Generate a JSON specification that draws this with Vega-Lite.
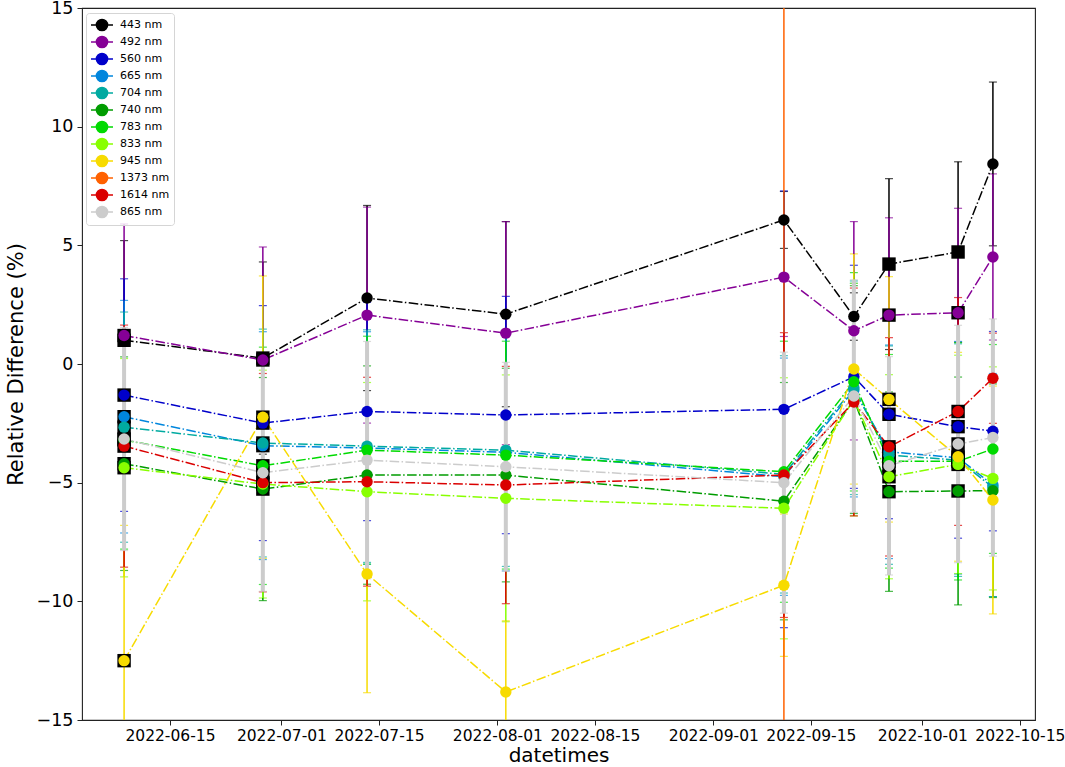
{
  "$schema": "https://vega.github.io/schema/vega-lite/v6.json",
  "width": 953,
  "height": 712,
  "autosize": {"type": "none"},
  "padding": {"left": 82, "top": 8, "right": 30, "bottom": 47},
  "background": "white",
  "config": {
    "font": "DejaVu Sans",
    "view": {"stroke": "#222222", "strokeWidth": 1.1},
    "axis": {
      "grid": false,
      "domain": false,
      "tickColor": "#222222",
      "tickSize": 5,
      "tickWidth": 1,
      "labelColor": "black",
      "titleColor": "black",
      "titleFontWeight": "normal",
      "labelFont": "DejaVu Sans",
      "titleFont": "DejaVu Sans"
    }
  },
  "data": {
    "values": [
      {"band": "443 nm", "date": "2022-06-08T10:00:00Z", "value": 1.0, "err": 4.2, "qc": "flag"},
      {"band": "443 nm", "date": "2022-06-28T08:00:00Z", "value": 0.25, "err": 4.05, "qc": "flag"},
      {"band": "443 nm", "date": "2022-07-13T07:00:00Z", "value": 2.78, "err": 3.9, "qc": "ok"},
      {"band": "443 nm", "date": "2022-08-02T05:00:00Z", "value": 2.1, "err": 3.9, "qc": "ok"},
      {"band": "443 nm", "date": "2022-09-11T03:00:00Z", "value": 6.07, "err": 1.2, "qc": "ok"},
      {"band": "443 nm", "date": "2022-09-21T04:00:00Z", "value": 2.0, "err": 1.0, "qc": "ok"},
      {"band": "443 nm", "date": "2022-09-26T05:00:00Z", "value": 4.21, "err": 3.6, "qc": "flag"},
      {"band": "443 nm", "date": "2022-10-06T03:00:00Z", "value": 4.72, "err": 3.8, "qc": "flag"},
      {"band": "443 nm", "date": "2022-10-11T03:00:00Z", "value": 8.43, "err": 3.45, "qc": "ok"},

      {"band": "492 nm", "date": "2022-06-08T10:00:00Z", "value": 1.2, "err": 4.7, "qc": "flag"},
      {"band": "492 nm", "date": "2022-06-28T08:00:00Z", "value": 0.17, "err": 4.76, "qc": "flag"},
      {"band": "492 nm", "date": "2022-07-13T07:00:00Z", "value": 2.06, "err": 4.55, "qc": "ok"},
      {"band": "492 nm", "date": "2022-08-02T05:00:00Z", "value": 1.3, "err": 4.7, "qc": "ok"},
      {"band": "492 nm", "date": "2022-09-11T03:00:00Z", "value": 3.66, "err": 2.5, "qc": "ok"},
      {"band": "492 nm", "date": "2022-09-21T04:00:00Z", "value": 1.4, "err": 4.6, "qc": "ok"},
      {"band": "492 nm", "date": "2022-09-26T05:00:00Z", "value": 2.06, "err": 4.1, "qc": "flag"},
      {"band": "492 nm", "date": "2022-10-06T03:00:00Z", "value": 2.16, "err": 4.4, "qc": "flag"},
      {"band": "492 nm", "date": "2022-10-11T03:00:00Z", "value": 4.51, "err": 3.5, "qc": "ok"},

      {"band": "560 nm", "date": "2022-06-08T10:00:00Z", "value": -1.31, "err": 4.9, "qc": "flag"},
      {"band": "560 nm", "date": "2022-06-28T08:00:00Z", "value": -2.49, "err": 4.95, "qc": "flag"},
      {"band": "560 nm", "date": "2022-07-13T07:00:00Z", "value": -2.0, "err": 4.6, "qc": "ok"},
      {"band": "560 nm", "date": "2022-08-02T05:00:00Z", "value": -2.15, "err": 5.0, "qc": "ok"},
      {"band": "560 nm", "date": "2022-09-11T03:00:00Z", "value": -1.91, "err": 9.2, "qc": "ok"},
      {"band": "560 nm", "date": "2022-09-21T04:00:00Z", "value": -0.54, "err": 4.7, "qc": "ok"},
      {"band": "560 nm", "date": "2022-09-26T05:00:00Z", "value": -2.12, "err": 4.4, "qc": "flag"},
      {"band": "560 nm", "date": "2022-10-06T03:00:00Z", "value": -2.64, "err": 4.7, "qc": "flag"},
      {"band": "560 nm", "date": "2022-10-11T03:00:00Z", "value": -2.83, "err": 4.2, "qc": "ok"},

      {"band": "665 nm", "date": "2022-06-08T10:00:00Z", "value": -2.22, "err": 4.9, "qc": "flag"},
      {"band": "665 nm", "date": "2022-06-28T08:00:00Z", "value": -3.44, "err": 4.8, "qc": "flag"},
      {"band": "665 nm", "date": "2022-07-13T07:00:00Z", "value": -3.54, "err": 4.9, "qc": "ok"},
      {"band": "665 nm", "date": "2022-08-02T05:00:00Z", "value": -3.72, "err": 5.0, "qc": "ok"},
      {"band": "665 nm", "date": "2022-09-11T03:00:00Z", "value": -4.75, "err": 5.0, "qc": "ok"},
      {"band": "665 nm", "date": "2022-09-21T04:00:00Z", "value": -1.1, "err": 4.5, "qc": "ok"},
      {"band": "665 nm", "date": "2022-09-26T05:00:00Z", "value": -3.7, "err": 4.5, "qc": "flag"},
      {"band": "665 nm", "date": "2022-10-06T03:00:00Z", "value": -3.95, "err": 4.9, "qc": "flag"},
      {"band": "665 nm", "date": "2022-10-11T03:00:00Z", "value": -5.1, "err": 4.7, "qc": "ok"},

      {"band": "704 nm", "date": "2022-06-08T10:00:00Z", "value": -2.66, "err": 4.85, "qc": "flag"},
      {"band": "704 nm", "date": "2022-06-28T08:00:00Z", "value": -3.33, "err": 4.8, "qc": "flag"},
      {"band": "704 nm", "date": "2022-07-13T07:00:00Z", "value": -3.46, "err": 4.9, "qc": "ok"},
      {"band": "704 nm", "date": "2022-08-02T05:00:00Z", "value": -3.63, "err": 4.9, "qc": "ok"},
      {"band": "704 nm", "date": "2022-09-11T03:00:00Z", "value": -4.65, "err": 5.0, "qc": "ok"},
      {"band": "704 nm", "date": "2022-09-21T04:00:00Z", "value": -1.0, "err": 4.5, "qc": "ok"},
      {"band": "704 nm", "date": "2022-09-26T05:00:00Z", "value": -3.84, "err": 4.6, "qc": "flag"},
      {"band": "704 nm", "date": "2022-10-06T03:00:00Z", "value": -4.05, "err": 4.9, "qc": "flag"},
      {"band": "704 nm", "date": "2022-10-11T03:00:00Z", "value": -5.2, "err": 4.6, "qc": "ok"},

      {"band": "740 nm", "date": "2022-06-08T10:00:00Z", "value": -4.2, "err": 4.5, "qc": "flag"},
      {"band": "740 nm", "date": "2022-06-28T08:00:00Z", "value": -5.27, "err": 4.7, "qc": "flag"},
      {"band": "740 nm", "date": "2022-07-13T07:00:00Z", "value": -4.68, "err": 4.6, "qc": "ok"},
      {"band": "740 nm", "date": "2022-08-02T05:00:00Z", "value": -4.68, "err": 4.5, "qc": "ok"},
      {"band": "740 nm", "date": "2022-09-11T03:00:00Z", "value": -5.78, "err": 5.0, "qc": "ok"},
      {"band": "740 nm", "date": "2022-09-21T04:00:00Z", "value": -1.5, "err": 4.8, "qc": "ok"},
      {"band": "740 nm", "date": "2022-09-26T05:00:00Z", "value": -5.38, "err": 4.2, "qc": "flag"},
      {"band": "740 nm", "date": "2022-10-06T03:00:00Z", "value": -5.35, "err": 4.8, "qc": "flag"},
      {"band": "740 nm", "date": "2022-10-11T03:00:00Z", "value": -5.34, "err": 4.5, "qc": "ok"},

      {"band": "783 nm", "date": "2022-06-08T10:00:00Z", "value": -3.2, "err": 4.6, "qc": "flag"},
      {"band": "783 nm", "date": "2022-06-28T08:00:00Z", "value": -4.29, "err": 5.0, "qc": "flag"},
      {"band": "783 nm", "date": "2022-07-13T07:00:00Z", "value": -3.63, "err": 4.8, "qc": "ok"},
      {"band": "783 nm", "date": "2022-08-02T05:00:00Z", "value": -3.84, "err": 4.8, "qc": "ok"},
      {"band": "783 nm", "date": "2022-09-11T03:00:00Z", "value": -4.54, "err": 5.5, "qc": "ok"},
      {"band": "783 nm", "date": "2022-09-21T04:00:00Z", "value": -0.75, "err": 4.6, "qc": "ok"},
      {"band": "783 nm", "date": "2022-09-26T05:00:00Z", "value": -4.1, "err": 4.5, "qc": "flag"},
      {"band": "783 nm", "date": "2022-10-06T03:00:00Z", "value": -4.1, "err": 5.0, "qc": "flag"},
      {"band": "783 nm", "date": "2022-10-11T03:00:00Z", "value": -3.58, "err": 4.4, "qc": "ok"},

      {"band": "833 nm", "date": "2022-06-08T10:00:00Z", "value": -4.37, "err": 4.6, "qc": "flag"},
      {"band": "833 nm", "date": "2022-06-28T08:00:00Z", "value": -5.06, "err": 4.8, "qc": "flag"},
      {"band": "833 nm", "date": "2022-07-13T07:00:00Z", "value": -5.38, "err": 4.6, "qc": "ok"},
      {"band": "833 nm", "date": "2022-08-02T05:00:00Z", "value": -5.66, "err": 5.2, "qc": "ok"},
      {"band": "833 nm", "date": "2022-09-11T03:00:00Z", "value": -6.08, "err": 5.5, "qc": "ok"},
      {"band": "833 nm", "date": "2022-09-21T04:00:00Z", "value": -1.5, "err": 4.9, "qc": "ok"},
      {"band": "833 nm", "date": "2022-09-26T05:00:00Z", "value": -4.75, "err": 4.3, "qc": "flag"},
      {"band": "833 nm", "date": "2022-10-06T03:00:00Z", "value": -4.23, "err": 4.6, "qc": "flag"},
      {"band": "833 nm", "date": "2022-10-11T03:00:00Z", "value": -4.82, "err": 4.7, "qc": "ok"},

      {"band": "945 nm", "date": "2022-06-08T10:00:00Z", "value": -12.5, "err": 5.7, "qc": "flag"},
      {"band": "945 nm", "date": "2022-06-28T08:00:00Z", "value": -2.24, "err": 5.95, "qc": "flag"},
      {"band": "945 nm", "date": "2022-07-13T07:00:00Z", "value": -8.85, "err": 5.0, "qc": "ok"},
      {"band": "945 nm", "date": "2022-08-02T05:00:00Z", "value": -13.82, "err": 3.0, "qc": "ok"},
      {"band": "945 nm", "date": "2022-09-11T03:00:00Z", "value": -9.32, "err": 3.0, "qc": "ok"},
      {"band": "945 nm", "date": "2022-09-21T04:00:00Z", "value": -0.21, "err": 4.85, "qc": "ok"},
      {"band": "945 nm", "date": "2022-09-26T05:00:00Z", "value": -1.49, "err": 5.17, "qc": "flag"},
      {"band": "945 nm", "date": "2022-10-06T03:00:00Z", "value": -3.91, "err": 4.4, "qc": "flag"},
      {"band": "945 nm", "date": "2022-10-11T03:00:00Z", "value": -5.73, "err": 4.8, "qc": "ok"},

      {"band": "1373 nm", "date": "2022-09-11T03:00:00Z", "value": -4.7, "err": 30, "qc": "ok"},

      {"band": "1614 nm", "date": "2022-06-08T10:00:00Z", "value": -3.46, "err": 5.1, "qc": "flag"},
      {"band": "1614 nm", "date": "2022-06-28T08:00:00Z", "value": -5.0, "err": 4.6, "qc": "flag"},
      {"band": "1614 nm", "date": "2022-07-13T07:00:00Z", "value": -4.96, "err": 4.4, "qc": "ok"},
      {"band": "1614 nm", "date": "2022-08-02T05:00:00Z", "value": -5.1, "err": 5.0, "qc": "ok"},
      {"band": "1614 nm", "date": "2022-09-11T03:00:00Z", "value": -4.68, "err": 6.0, "qc": "ok"},
      {"band": "1614 nm", "date": "2022-09-21T04:00:00Z", "value": -1.6, "err": 4.8, "qc": "ok"},
      {"band": "1614 nm", "date": "2022-09-26T05:00:00Z", "value": -3.49, "err": 4.6, "qc": "flag"},
      {"band": "1614 nm", "date": "2022-10-06T03:00:00Z", "value": -2.0, "err": 4.8, "qc": "flag"},
      {"band": "1614 nm", "date": "2022-10-11T03:00:00Z", "value": -0.6, "err": 1.9, "qc": "ok"},

      {"band": "865 nm", "date": "2022-06-08T10:00:00Z", "value": -3.16, "err": 4.7, "qc": "flag"},
      {"band": "865 nm", "date": "2022-06-28T08:00:00Z", "value": -4.58, "err": 5.0, "qc": "flag"},
      {"band": "865 nm", "date": "2022-07-13T07:00:00Z", "value": -4.05, "err": 5.0, "qc": "ok"},
      {"band": "865 nm", "date": "2022-08-02T05:00:00Z", "value": -4.33, "err": 4.4, "qc": "ok"},
      {"band": "865 nm", "date": "2022-09-11T03:00:00Z", "value": -5.0, "err": 5.5, "qc": "ok"},
      {"band": "865 nm", "date": "2022-09-21T04:00:00Z", "value": -1.35, "err": 4.9, "qc": "ok"},
      {"band": "865 nm", "date": "2022-09-26T05:00:00Z", "value": -4.29, "err": 4.6, "qc": "flag"},
      {"band": "865 nm", "date": "2022-10-06T03:00:00Z", "value": -3.37, "err": 5.0, "qc": "flag"},
      {"band": "865 nm", "date": "2022-10-11T03:00:00Z", "value": -3.1, "err": 5.0, "qc": "ok"}
    ]
  },
  "encoding": {
    "x": {
      "field": "date",
      "type": "temporal",
      "title": "datetimes",
      "scale": {
        "type": "utc",
        "domain": [
          {"year": 2022, "month": 6, "date": 2, "hours": 9, "utc": true},
          {"year": 2022, "month": 10, "date": 17, "hours": 4, "utc": true}
        ]
      },
      "axis": {
        "values": [
          {"year": 2022, "month": 6, "date": 15, "utc": true},
          {"year": 2022, "month": 7, "date": 1, "utc": true},
          {"year": 2022, "month": 7, "date": 15, "utc": true},
          {"year": 2022, "month": 8, "date": 1, "utc": true},
          {"year": 2022, "month": 8, "date": 15, "utc": true},
          {"year": 2022, "month": 9, "date": 1, "utc": true},
          {"year": 2022, "month": 9, "date": 15, "utc": true},
          {"year": 2022, "month": 10, "date": 1, "utc": true},
          {"year": 2022, "month": 10, "date": 15, "utc": true}
        ],
        "format": "%Y-%m-%d",
        "labelFontSize": 15.5,
        "labelOverlap": false,
        "labelFlush": false,
        "labelBound": false,
        "labelPadding": 3,
        "titleFontSize": 20,
        "titlePadding": 2
      }
    },
    "y": {
      "field": "value",
      "type": "quantitative",
      "title": "Relative Difference (%)",
      "scale": {"domain": [-15, 15], "nice": false, "zero": false},
      "axis": {
        "values": [-15, -10, -5, 0, 5, 10, 15],
        "labelExpr": "replace(datum.label, '-', '−')",
        "labelFontSize": 17.5,
        "labelPadding": 4,
        "titleFontSize": 21,
        "titlePadding": 10
      }
    },
    "color": {
      "field": "band",
      "type": "nominal",
      "scale": {
        "domain": ["443 nm", "492 nm", "560 nm", "665 nm", "704 nm", "740 nm", "783 nm", "833 nm", "945 nm", "1373 nm", "1614 nm", "865 nm"],
        "range": ["#000000", "#850096", "#0000ca", "#0086dd", "#00aaa1", "#009c00", "#00da00", "#88ff00", "#f7db00", "#ff6100", "#da0000", "#cccccc"]
      },
      "legend": {
        "title": null,
        "orient": "none",
        "legendX": 4,
        "legendY": 5,
        "padding": 4,
        "rowPadding": -3,
        "labelFontSize": 11,
        "labelFont": "DejaVu Sans",
        "labelColor": "black",
        "labelOffset": 10,
        "labelLimit": 120,
        "symbolOffset": 4,
        "symbolSize": 196,
        "symbolType": "M-1.571,0L1.571,0M0.8,0A0.8,0.8,0,1,1,-0.8,0A0.8,0.8,0,1,1,0.8,0Z",
        "symbolStrokeWidth": 1.5,
        "symbolOpacity": 1,
        "fillColor": "rgba(255,255,255,0.8)",
        "strokeColor": "#d5d5d5",
        "cornerRadius": 3,
        "encode": {
          "symbols": {
            "update": {
              "stroke": {"scale": "color", "field": "value"},
              "fill": {"scale": "color", "field": "value"},
              "strokeDash": {"value": []}
            }
          }
        }
      }
    }
  },
  "layer": [
    {
      "transform": [{"filter": "datum.band !== '865 nm'"}],
      "mark": {
        "type": "errorbar",
        "ticks": {"clip": true, "size": 8, "thickness": 1.2},
        "rule": {"clip": true, "strokeWidth": 1.5}
      },
      "encoding": {"yError": {"field": "err"}}
    },
    {
      "transform": [{"filter": "datum.band === '865 nm'"}],
      "mark": {
        "type": "errorbar",
        "ticks": {"clip": true, "size": 8, "thickness": 1.2},
        "rule": {"clip": true, "strokeWidth": 4}
      },
      "encoding": {"yError": {"field": "err"}}
    },
    {
      "mark": {
        "type": "line",
        "clip": true,
        "strokeWidth": 1.5,
        "strokeDash": [9.6, 2.4, 1.5, 2.4],
        "opacity": 1
      }
    },
    {
      "transform": [{"filter": "datum.qc === 'flag'"}],
      "mark": {"type": "point", "shape": "square", "filled": true, "size": 180, "opacity": 1, "clip": true},
      "encoding": {"color": {"value": "black"}}
    },
    {
      "mark": {"type": "point", "shape": "circle", "filled": true, "size": 130, "opacity": 1, "clip": true}
    }
  ]
}
